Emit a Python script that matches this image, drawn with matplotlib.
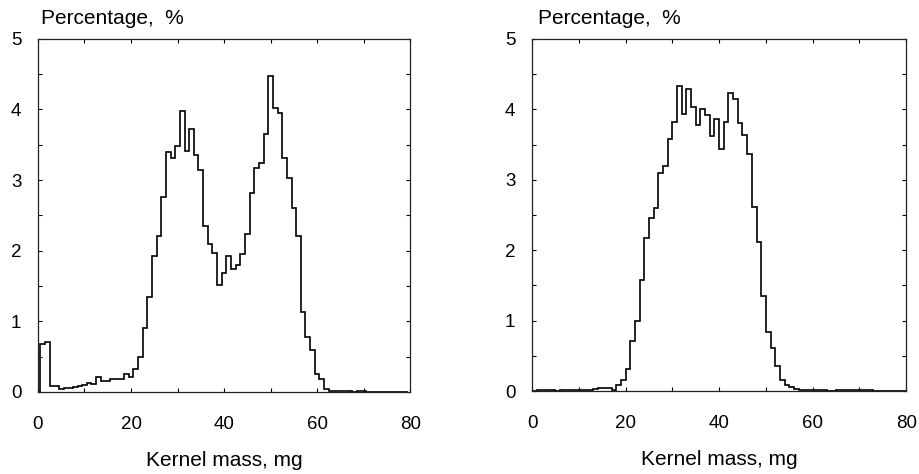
import numpy as np
import matplotlib.pyplot as plt
from matplotlib.ticker import MultipleLocator

plt.rcParams['font.family'] = ['Liberation Sans', 'DejaVu Sans']

# Left panel: percentage per 1 mg class, class centres 0..79 mg
mass_a = np.arange(0, 80)
pct_a = np.array([
    0.00, 0.68, 0.71, 0.09, 0.09, 0.04, 0.05, 0.05, 0.07, 0.08,
    0.10, 0.13, 0.12, 0.21, 0.16, 0.16, 0.18, 0.19, 0.18, 0.25,
    0.21, 0.33, 0.49, 0.90, 1.35, 1.92, 2.21, 2.76, 3.40, 3.31,
    3.48, 3.98, 3.41, 3.72, 3.36, 3.14, 2.35, 2.09, 1.97, 1.52,
    1.68, 1.93, 1.74, 1.80, 1.95, 2.24, 2.82, 3.17, 3.24, 3.65,
    4.47, 4.02, 3.95, 3.31, 3.03, 2.60, 2.21, 1.13, 0.78, 0.59,
    0.25, 0.18, 0.04, 0.01, 0.02, 0.02, 0.01, 0.01, 0.00, 0.01,
    0.02, 0.00, 0.00, 0.00, 0.00, 0.00, 0.00, 0.00, 0.00, 0.00,
])

# Right panel: percentage per 1 mg class, classes start at 0..79 mg
mass_b = np.arange(0, 80)
pct_b = np.array([
    0.00, 0.01, 0.02, 0.01, 0.01, 0.00, 0.01, 0.02, 0.01, 0.01,
    0.02, 0.02, 0.02, 0.03, 0.04, 0.05, 0.05, 0.02, 0.09, 0.16,
    0.31, 0.71, 0.99, 1.58, 2.17, 2.46, 2.60, 3.09, 3.19, 3.58,
    3.82, 4.33, 3.93, 4.29, 4.03, 3.78, 4.01, 3.92, 3.62, 3.86,
    3.44, 3.82, 4.23, 4.15, 3.80, 3.63, 3.37, 2.61, 2.11, 1.35,
    0.84, 0.61, 0.35, 0.15, 0.08, 0.06, 0.03, 0.02, 0.01, 0.02,
    0.02, 0.01, 0.01, 0.00, 0.00, 0.01, 0.01, 0.01, 0.01, 0.02,
    0.01, 0.02, 0.01, 0.00, 0.00, 0.00, 0.00, 0.00, 0.00, 0.00,
])

x_ticks = [0, 20, 40, 60, 80]
y_ticks = [0, 1, 2, 3, 4, 5]

fig = plt.figure(figsize=(9.19, 4.74), dpi=100)
ax1 = fig.add_axes([0.0413, 0.173, 0.405, 0.745])
ax2 = fig.add_axes([0.579, 0.175, 0.407, 0.743])

panels = [
    (ax1, np.append(mass_a - 0.5, mass_a[-1] + 0.5), pct_a, 0.008),
    (ax2, np.append(mass_b, mass_b[-1] + 1), pct_b, 0.016),
]

for ax, edges, pct, tx in panels:
    ax.stairs(pct, edges, color='black', lw=1.2)
    ax.set_xlim(0, 80)
    ax.set_ylim(0, 5)
    ax.set_xticks(x_ticks)
    ax.set_yticks(y_ticks)
    ax.xaxis.set_minor_locator(MultipleLocator(10))
    ax.yaxis.set_minor_locator(MultipleLocator(0.5))
    ax.tick_params(which='both', direction='in', top=True, right=True,
                   length=3, width=0.8, labelsize=13.5)
    ax.tick_params(axis='x', which='major', pad=17)
    ax.tick_params(axis='y', which='major', pad=12)
    for s in ax.spines.values():
        s.set_linewidth(0.9)
        s.set_color('#222222')
    ax.set_xlabel('Kernel mass, mg', fontsize=15, labelpad=13)
    ax.text(tx, 1.042, 'Percentage,  %', transform=ax.transAxes,
            fontsize=15, ha='left', va='baseline')

fig.savefig('out.png', dpi=100)
